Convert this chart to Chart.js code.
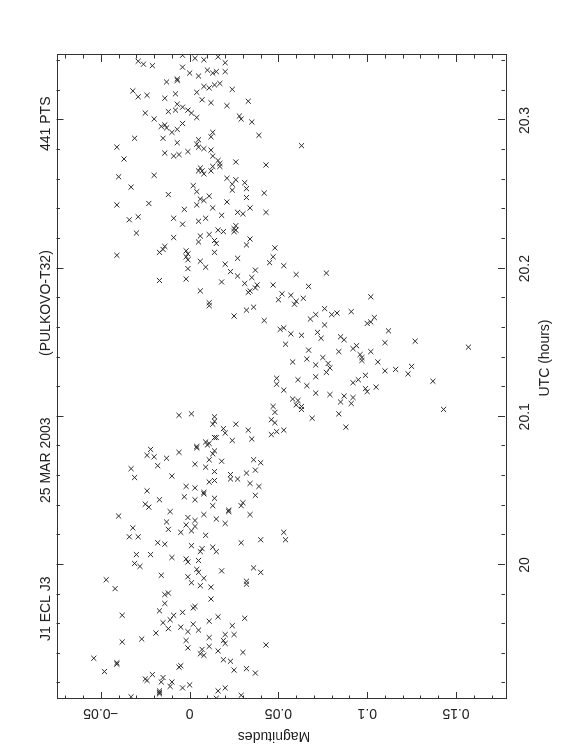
<!DOCTYPE html>
<html>
<head>
<meta charset="utf-8">
<script src="https://cdn.jsdelivr.net/npm/chart.js@4/dist/chart.umd.min.js"></script>
<style>
html,body{margin:0;padding:0;background:#fff;}
body{width:562px;height:756px;overflow:hidden;position:relative;}
#wrap{position:absolute;left:0;top:0;width:756px;height:562px;transform-origin:0 0;transform:translateY(756px) rotate(-90deg);}
</style>
</head>
<body>
<div id="wrap"><canvas id="c" width="756" height="562" style="width:756px;height:562px"></canvas></div>
<script>
// ---- data (UTC hours, magnitudes) ----
const utcHours = [
 20.344,20.342,20.341,20.343,20.340,20.338,20.337,20.339,20.336,20.332,
 20.330,20.334,20.332,20.333,20.333,20.327,20.328,20.326,20.320,20.316,
 20.317,20.319,20.323,20.322,20.324,20.325,20.321,20.318,20.315,20.314,
 20.312,20.310,20.313,20.311,20.307,20.306,20.309,20.307,20.305,20.302,
 20.305,20.301,20.303,20.301,20.299,20.296,20.297,20.295,20.292,20.294,
 20.298,20.292,20.289,20.288,20.288,20.285,20.287,20.284,20.282,20.281,
 20.280,20.276,20.273,20.271,20.269,20.269,20.282,20.274,20.278,20.276,
 20.277,20.279,20.272,20.270,20.290,20.268,20.266,20.264,20.266,20.266,
 20.262,20.263,20.255,20.256,20.252,20.250,20.247,20.246,20.249,20.261,
 20.260,20.257,20.253,20.258,20.254,20.248,20.251,20.245,20.243,20.241,
 20.243,20.244,20.240,20.241,20.236,20.238,20.237,20.238,20.235,20.234,
 20.234,20.233,20.283,
 20.230,20.232,20.224,20.226,20.225,20.227,20.229,20.226,20.225,20.221,
 20.222,20.223,20.218,20.219,20.217,20.220,20.216,20.209,20.211,20.213,
 20.215,20.212,20.210,20.208,20.206,20.200,20.193,20.205,20.201,20.211,
 20.203,20.207,20.198,20.195,20.194,20.199,20.190,20.184,20.185,20.187,
 20.189,20.191,20.185,20.192,20.177,20.175,20.168,20.172,20.174,20.165,
 20.204,20.208,20.189,20.214,
 20.202,20.196,20.197,20.188,20.183,20.179,20.182,20.176,20.178,20.180,
 20.181,20.173,20.169,20.166,20.169,20.170,20.171,20.162,20.163,20.164,
 20.167,20.158,20.159,20.160,20.156,20.155,20.149,20.157,20.153,20.154,
 20.152,20.150,20.151,20.147,20.144,20.145,20.148,20.146,20.142,20.140,
 20.138,20.144,20.139,20.140,20.137,20.135,20.136,20.133,20.130,20.137,
 20.131,20.132,20.134,20.129,20.126,20.125,20.127,20.123,20.125,20.128,
 20.124,
 20.122,20.121,20.118,20.116,20.115,20.114,20.110,20.109,20.113,20.119,
 20.117,20.120,20.105,20.112,20.111,20.108,20.107,20.105,20.107,20.103,
 20.098,20.096,20.088,20.090,20.091,20.099,20.102,20.093,20.022,20.017,
 20.101,20.102,20.100,20.097,20.095,20.092,20.089,20.095,20.091,20.085,
 20.084,20.086,20.086,20.083,20.082,20.081,20.080,20.079,20.077,20.075,
 20.076,20.078,20.074,20.073,20.072,20.071,20.068,20.066,20.063,20.070,
 20.071,20.069,20.064,20.062,20.061,20.058,20.058,20.055,20.053,20.047,
 20.042,20.040,20.034,20.028,20.036,20.037,20.031,20.040,20.045,20.056,
 20.057,20.049,20.048,20.044,20.052,20.053,20.046,20.060,20.067,20.065,
 20.059,20.050,20.044,20.041,20.039,20.036,20.029,20.024,20.032,20.030,
 20.027,20.023,20.026,20.022,20.034,20.020,20.033,20.025,20.019,20.019,
 20.015,20.014,20.013,20.011,20.012,20.015,20.017,
 20.007,20.007,20.005,20.004,20.002,20.003,20.009,20.009,20.001,19.999,
 19.990,19.984,19.993,19.992,19.988,19.997,19.995,19.991,19.986,19.985,
 19.996,19.998,19.995,19.989,19.987,19.980,19.981,19.974,19.969,19.966,
 19.966,19.963,19.961,19.957,19.968,19.971,19.972,19.958,19.960,19.956,
 19.955,19.949,19.944,19.954,19.950,19.948,19.962,19.977,19.965,19.959,
 19.964,19.953,19.951,19.953,19.949,19.947,19.942,19.945,19.943,19.940,
 19.939,19.935,19.936,19.941,19.946,19.937,19.928,19.934,19.933,19.931,
 19.932,19.929,19.930,19.927,19.926,19.923,19.922,19.924,19.921,19.921,
 19.918,19.917,19.919,19.915,19.914,19.913,19.915,19.917,19.912,19.911,19.910
];
const magnitudes = [
 -0.004,0.003,0.008,0.016,-0.029,-0.026,-0.021,0.020,-0.004,0.000,
 0.005,0.010,0.013,0.015,0.020,-0.007,-0.007,-0.013,-0.032,-0.029,
 -0.024,0.004,0.008,0.011,0.014,0.017,0.024,-0.008,-0.014,0.007,
 0.012,0.021,0.033,-0.007,-0.008,-0.012,-0.004,-0.001,0.001,0.004,
 -0.025,-0.020,0.028,0.029,0.035,-0.016,-0.014,-0.013,-0.010,-0.007,
 -0.004,0.013,0.012,-0.031,-0.015,-0.007,0.005,0.004,0.005,0.008,
 0.012,0.013,0.016,0.017,0.017,0.013,-0.041,-0.037,-0.014,-0.009,
 -0.006,-0.001,0.026,0.043,0.039,0.006,0.007,0.008,0.005,0.012,
 -0.040,-0.020,-0.033,0.002,0.004,-0.012,0.006,0.008,0.011,0.021,
 0.026,0.024,0.024,0.031,0.032,0.032,0.042,0.021,0.004,0.034,
 -0.041,-0.023,-0.003,0.013,0.018,0.027,0.030,0.043,-0.029,-0.009,
 0.009,-0.034,0.063,
 -0.004,0.005,-0.030,0.016,0.019,0.025,0.026,0.026,0.025,-0.009,
 0.006,0.011,0.005,0.014,0.015,0.034,0.032,-0.041,-0.017,-0.015,
 -0.014,-0.002,-0.001,-0.002,-0.001,-0.001,-0.002,0.006,0.009,0.014,
 0.020,0.027,0.023,0.027,0.035,0.037,0.031,0.033,0.034,0.037,
 0.038,0.018,0.006,-0.017,0.011,0.011,0.025,0.032,0.036,0.042,
 0.045,0.047,0.047,0.048,
 0.053,0.060,0.077,0.067,0.052,0.050,0.057,0.059,0.060,0.064,
 0.102,0.076,0.071,0.068,0.080,0.083,0.091,0.076,0.100,0.102,
 0.104,0.112,0.051,0.053,0.057,0.063,0.054,0.072,0.074,0.085,
 0.087,0.110,0.127,0.157,0.084,0.067,0.094,0.092,0.096,0.097,
 0.097,0.102,0.066,0.075,0.058,0.071,0.078,0.079,0.077,0.106,
 0.110,0.116,0.125,0.123,0.049,0.061,0.071,0.092,0.095,0.099,
 0.137,
 0.049,0.066,0.053,0.071,0.079,0.087,0.085,0.091,0.092,0.099,
 0.100,0.105,0.143,0.058,0.061,0.060,0.063,0.063,0.047,0.048,
 0.046,0.048,0.046,0.049,0.053,0.069,0.084,0.088,0.053,0.054,
 -0.006,0.001,0.014,0.014,0.013,0.019,0.020,0.026,0.033,0.035,
 0.024,0.015,0.014,0.009,0.011,0.010,0.004,0.004,0.014,0.013,
 -0.006,-0.022,-0.024,-0.020,-0.013,0.011,0.003,0.009,0.014,0.018,
 0.036,0.040,0.037,0.032,0.023,0.023,0.027,0.034,0.039,0.037,
 0.030,0.029,0.034,0.020,0.022,0.022,0.015,0.013,0.014,0.011,
 0.014,0.008,0.008,0.003,0.003,-0.002,-0.003,-0.010,-0.018,-0.033,
 -0.031,-0.024,-0.017,-0.025,-0.023,-0.011,-0.013,-0.012,-0.001,0.003,
 -0.002,0.001,0.003,-0.005,0.008,0.009,-0.040,-0.032,-0.034,-0.029,
 -0.018,-0.014,0.001,0.007,0.013,0.029,0.040,
 -0.030,-0.022,-0.010,-0.002,-0.001,0.005,0.006,0.015,-0.031,-0.028,
 -0.047,-0.042,-0.016,-0.001,0.001,0.004,0.005,0.008,0.006,0.012,
 0.018,0.036,0.040,0.032,0.032,-0.014,-0.012,-0.014,-0.017,-0.038,
 -0.009,-0.011,-0.015,-0.012,-0.004,0.002,0.003,-0.005,0.002,0.005,
 -0.001,-0.002,-0.001,-0.019,-0.027,-0.038,0.011,0.012,0.016,0.024,
 0.031,0.020,0.011,0.025,0.019,0.020,0.016,0.011,0.007,0.006,
 0.008,0.023,0.019,0.030,0.043,-0.054,-0.048,-0.041,-0.041,-0.006,
 -0.005,0.025,0.032,0.037,-0.021,-0.025,-0.024,-0.015,-0.016,-0.010,
 -0.011,-0.004,0.000,-0.017,-0.017,-0.017,0.016,0.020,0.029,-0.033,0.015
];
const utcTicks = [20, 20.1, 20.2, 20.3];
const utcTickLabels = ['20', '20.1', '20.2', '20.3'];
const magTicks = [-0.05, 0, 0.05, 0.1, 0.15];
const magTickLabels = ['\u22120.05', '0', '0.05', '0.1', '0.15'];
const titleParts = ['J1 ECL J3', '25 MAR 2003', '(PULKOVO-T32)', '441 PTS'];
const xTitle = 'UTC (hours)';
const yTitle = 'Magnitudes';
const utcRange = [19.9095, 20.3442];
const magRange = [-0.075, 0.1776];

const FONT = '14px "Liberation Sans", Arial, sans-serif';
const INK = '#222';

const framePlugin = {
  id: 'pgframe',
  afterDatasetsDraw(chart) {
    const ctx = chart.ctx, a = chart.chartArea;
    const xs = chart.scales.x, ys = chart.scales.y;
    ctx.save();
    ctx.strokeStyle = '#333';
    ctx.lineWidth = 1;
    ctx.strokeRect(Math.round(a.left) + 0.5, Math.round(a.top) + 0.5,
                   Math.round(a.right - a.left), Math.round(a.bottom - a.top));
    ctx.beginPath();
    // UTC minor/major ticks (0.02 h minor, 0.1 h major)
    for (let k = Math.ceil(utcRange[0] * 50); k <= Math.floor(utcRange[1] * 50); k++) {
      const v = k / 50;
      const X = Math.round(xs.getPixelForValue(v)) + 0.5;
      const len = (k % 5 === 0) ? 7 : 3.5;
      ctx.moveTo(X, a.top); ctx.lineTo(X, a.top + len);
      ctx.moveTo(X, a.bottom); ctx.lineTo(X, a.bottom - len);
    }
    // magnitude ticks (0.01 minor, 0.05 major)
    for (let k = Math.ceil(magRange[0] * 100); k <= Math.floor(magRange[1] * 100); k++) {
      const v = k / 100;
      const Y = Math.round(ys.getPixelForValue(v)) + 0.5;
      const len = (k % 5 === 0) ? 7 : 3.5;
      ctx.moveTo(a.left, Y); ctx.lineTo(a.left + len, Y);
      ctx.moveTo(a.right, Y); ctx.lineTo(a.right - len, Y);
    }
    ctx.stroke();

    ctx.fillStyle = INK;
    ctx.font = FONT;
    // UTC tick labels
    ctx.textAlign = 'center';
    ctx.textBaseline = 'alphabetic';
    utcTicks.forEach((v, i) => {
      ctx.fillText(utcTickLabels[i], xs.getPixelForValue(v), a.bottom + 24);
    });
    // UTC axis title
    ctx.fillText(xTitle, 398, a.bottom + 44);
    // magnitude labels (rotated)
    magTicks.forEach((v, i) => {
      ctx.save();
      ctx.translate(a.left - 10.3, ys.getPixelForValue(v));
      ctx.rotate(-Math.PI / 2);
      ctx.fillText(magTickLabels[i], 0, 0);
      ctx.restore();
    });
    ctx.save();
    ctx.translate(24.3, 274);
    ctx.rotate(-Math.PI / 2);
    ctx.fillText(yTitle, 0, 0);
    ctx.restore();
    // title parts
    ctx.textAlign = 'left';
    const starts = [115, 253, 400, 605];
    titleParts.forEach((s, i) => ctx.fillText(s, starts[i], 50));
    ctx.restore();
  }
};

new Chart(document.getElementById('c').getContext('2d'), {
  type: 'scatter',
  data: {
    datasets: [{
      data: utcHours.map((t, i) => ({ x: t, y: magnitudes[i] })),
      pointStyle: 'crossRot',
      pointRadius: 3.6,
      borderColor: '#2a2a2a',
      backgroundColor: 'rgba(0,0,0,0)',
      borderWidth: 1
    }]
  },
  options: {
    responsive: false,
    animation: false,
    devicePixelRatio: 1,
    layout: { padding: { left: 57, right: 55, top: 56.5, bottom: 57 } },
    plugins: { legend: { display: false }, tooltip: { enabled: false }, title: { display: false } },
    scales: {
      x: { type: 'linear', display: false, min: utcRange[0], max: utcRange[1] },
      y: { type: 'linear', display: false, reverse: true, min: magRange[0], max: magRange[1] }
    }
  },
  plugins: [framePlugin]
});
</script>
</body>
</html>
